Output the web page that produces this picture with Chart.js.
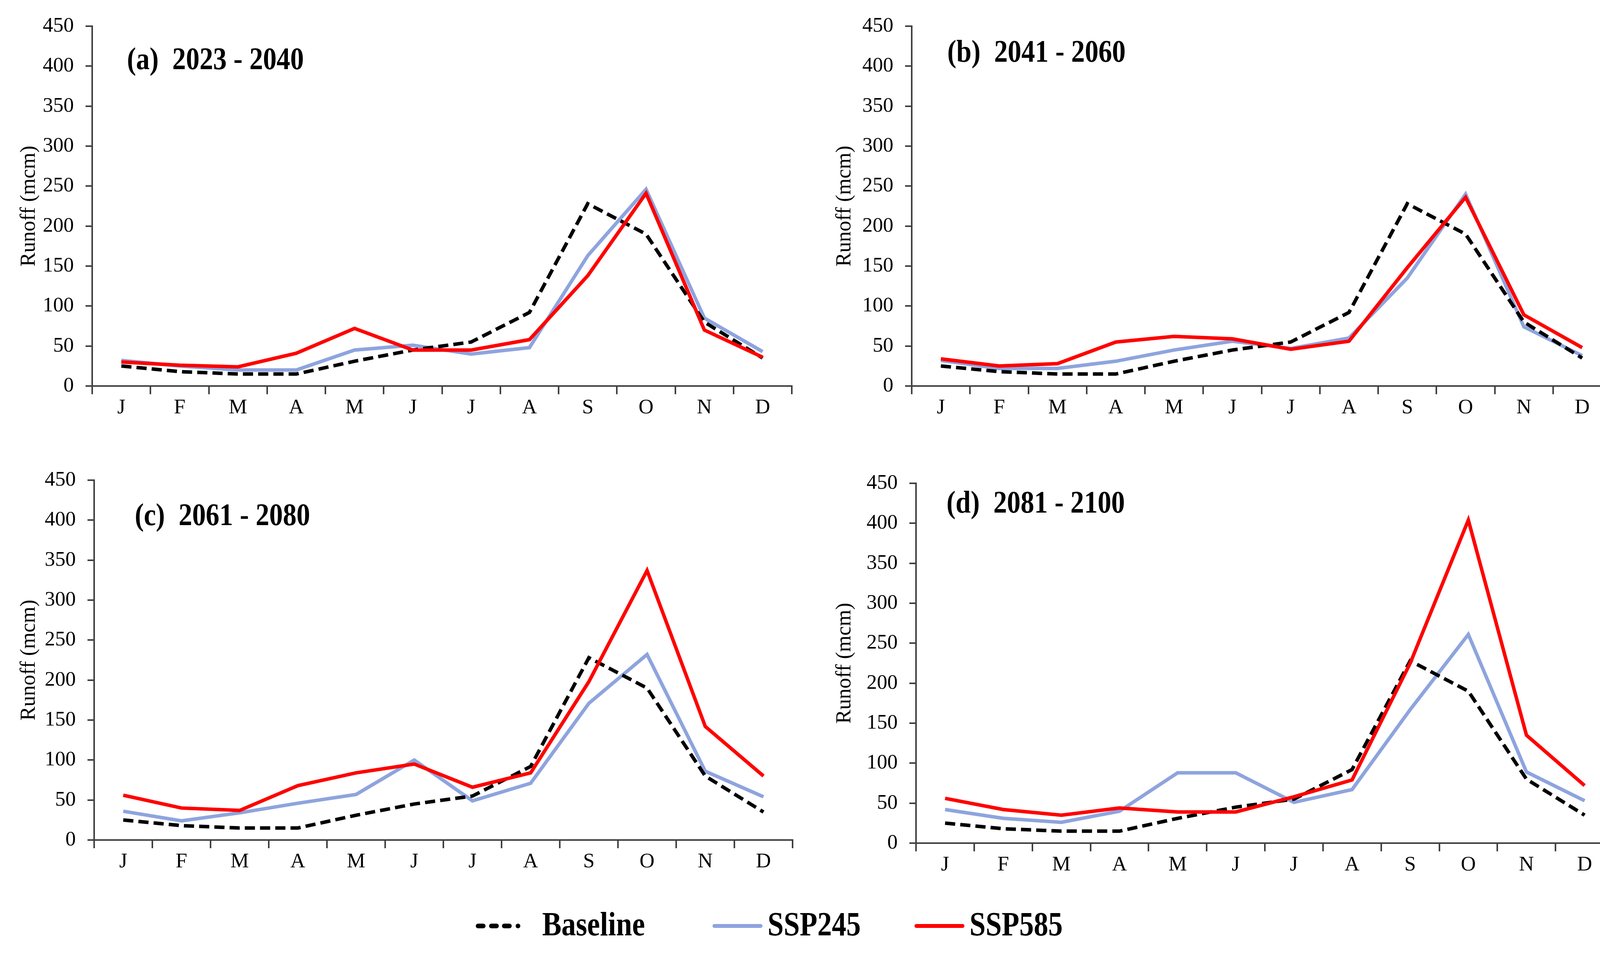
<!DOCTYPE html>
<html lang="en">
<head>
    <meta charset="UTF-8" />
    <title>Runoff projections</title>
    <script src="https://cdn.jsdelivr.net/npm/chart.js"></script>
    <style>
        body { margin: 0; background: #fff; width: 4176px; height: 2452px; position: relative; overflow: hidden; font-family: "Liberation Serif", serif; }
        .panel { position: absolute; width: 2088px; height: 1100px; }
        .tag { position: absolute; font-weight: bold; font-size: 81px; line-height: 1; white-space: pre; transform: scaleX(0.86); transform-origin: left top; }
        .item { position: absolute; top: 2322px; font-weight: bold; font-size: 86px; line-height: 1; white-space: nowrap; transform: scaleX(0.86); transform-origin: left top; }
        .dash { position: absolute; top: 2364px; height: 12px; width: 25px; background: #000; border-radius: 6px; }
        .bar { position: absolute; top: 2365px; height: 10px; width: 128px; border-radius: 5px; }
    </style>
</head>
<body>
    <!-- panels -->
    <div class="panel" style="left:0;top:0"><canvas id="chartA" width="2088" height="1100"></canvas></div>
    <div class="panel" style="left:2088px;top:0"><canvas id="chartB" width="2088" height="1100"></canvas></div>
    <div class="panel" style="left:0;top:1150px"><canvas id="chartC" width="2088" height="1100"></canvas></div>
    <div class="panel" style="left:2088px;top:1150px"><canvas id="chartD" width="2088" height="1100"></canvas></div>

    <div class="tag" style="left:325px;top:110px">(a)  2023 - 2040</div>
    <div class="tag" style="left:2425px;top:91px">(b)  2041 - 2060</div>
    <div class="tag" style="left:345px;top:1277px">(c)  2061 - 2080</div>
    <div class="tag" style="left:2423px;top:1245px">(d)  2081 - 2100</div>

    <!-- legend -->
    <div class="dash" style="left:1218px"></div>
    <div class="dash" style="left:1252px"></div>
    <div class="dash" style="left:1285px"></div>
    <div class="dash" style="left:1320px;width:12px"></div>
    <div class="item" style="left:1388px">Baseline</div>
    <div class="bar" style="left:1824px;background:#8EA4DE"></div>
    <div class="item" style="left:1965px">SSP245</div>
    <div class="bar" style="left:2341px;background:#FF0000"></div>
    <div class="item" style="left:2482px">SSP585</div>

    <script>
        const months = ['J', 'F', 'M', 'A', 'M', 'J', 'J', 'A', 'S', 'O', 'N', 'D'];
        const yTicks = [0, 50, 100, 150, 200, 250, 300, 350, 400, 450];

        // baseline is the same in every panel
        const baseline = [25, 18, 15, 15, 31, 45, 55, 92, 228, 190, 80, 35];

        const ssp245A = [32, 25, 20, 20, 45, 51, 40, 48, 163, 246, 85, 43];
        const ssp585A = [30, 26, 24, 41, 72, 45, 45, 58, 138, 241, 70, 36];

        const ssp245B = [32, 22, 22, 31, 45, 56, 47, 60, 135, 240, 74, 38];
        const ssp585B = [34, 25, 28, 55, 62, 59, 46, 56, 148, 236, 89, 48];

        const ssp245C = [36, 24, 34, 46, 57, 100, 49, 71, 171, 232, 86, 54];
        const ssp585C = [56, 40, 37, 68, 84, 95, 66, 84, 198, 337, 142, 80];

        const ssp245D = [42, 31, 26, 40, 88, 88, 51, 67, 167, 261, 89, 53];
        const ssp585D = [56, 42, 35, 44, 39, 39, 58, 79, 225, 404, 135, 72];

        const axisColor = '#404040';
        const tickFont = { family: 'Liberation Serif', size: 53 };

        function makeChart(id, s245, s585, box) {
            const ctx = document.getElementById(id).getContext('2d');
            return new Chart(ctx, {
                type: 'line',
                data: {
                    labels: months,
                    datasets: [
                        { label: 'SSP585', data: s585, borderColor: '#FF0000', borderWidth: 9, pointRadius: 0, tension: 0, fill: false, order: 1 },
                        { label: 'Baseline', data: baseline, borderColor: '#000000', borderWidth: 9, borderDash: [26, 13], pointRadius: 0, tension: 0, fill: false, order: 2 },
                        { label: 'SSP245', data: s245, borderColor: '#8EA4DE', borderWidth: 9, pointRadius: 0, tension: 0, fill: false, order: 3 }
                    ]
                },
                options: {
                    responsive: false,
                    animation: false,
                    devicePixelRatio: 1,
                    layout: { padding: { top: box.top, right: 2088 - box.right, bottom: 0, left: 0 } },
                    plugins: { legend: { display: false }, tooltip: { enabled: false } },
                    scales: {
                        x: {
                            type: 'category',
                            offset: true,
                            grid: { offset: true, drawOnChartArea: false, tickLength: 21, color: axisColor, lineWidth: 4 },
                            border: { color: axisColor, width: 4 },
                            ticks: { color: '#000', font: tickFont, padding: 3, maxRotation: 0, autoSkip: false },
                            afterFit: (scale) => { scale.height = 1100 - box.bottom; }
                        },
                        y: {
                            min: 0,
                            max: 450,
                            afterBuildTicks: (scale) => { scale.ticks = yTicks.map(v => ({ value: v })); },
                            grid: { drawOnChartArea: false, tickLength: 17, color: axisColor, lineWidth: 4 },
                            border: { color: axisColor, width: 4 },
                            ticks: { color: '#000', font: tickFont, padding: 30 },
                            title: {
                                display: true,
                                text: 'Runoff (mcm)',
                                color: '#000',
                                font: { family: 'Liberation Serif', size: 54 },
                                padding: { top: 42, bottom: 0 }
                            },
                            afterFit: (scale) => { scale.width = box.left; }
                        }
                    }
                }
            });
        }

        makeChart('chartA', ssp245A, ssp585A, { left: 236, right: 2027, top: 67, bottom: 988 });
        makeChart('chartB', ssp245B, ssp585B, { left: 246, right: 2037, top: 67, bottom: 988 });
        makeChart('chartC', ssp245C, ssp585C, { left: 241, right: 2029, top: 79, bottom: 1000 });
        makeChart('chartD', ssp245D, ssp585D, { left: 257, right: 2043, top: 87, bottom: 1008 });
    </script>
</body>
</html>
